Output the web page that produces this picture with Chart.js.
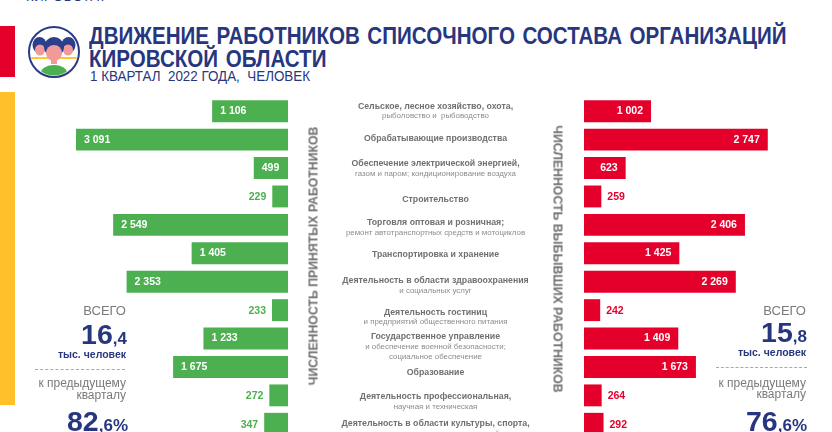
<!DOCTYPE html>
<html lang="ru"><head><meta charset="utf-8">
<script src="https://cdn.jsdelivr.net/npm/chart.js@4"></script>
<style>
html,body{margin:0;padding:0;background:#fff;overflow:hidden}
#page{position:relative;width:832px;height:432px;overflow:hidden;font-family:"Liberation Sans",Arial,sans-serif;background:#fff}
#page>*{position:absolute}
.t{white-space:nowrap;line-height:1}
.blue{color:#27377f}
.grey{color:#7a7a7a}
.r{text-align:right}
canvas{position:absolute}
.big{font-weight:bold;font-size:28.5px}
.big span{font-size:17px}
.note{font-size:12px}
</style></head><body>
<div id="page">
<div class="t blue" style="left:26px;top:-10px;font-size:13px;letter-spacing:.6px">КИРОВСТАТ</div>
<div style="left:0;top:26px;width:15px;height:51px;background:#e4002b"></div>
<div style="left:0;top:92px;width:15px;height:313px;background:#ffc02a"></div>
<svg style="left:28px;top:26px" width="52" height="52" viewBox="0 0 52 52">
 <defs><clipPath id="c"><circle cx="26" cy="26" r="23.5"/></clipPath></defs>
 <circle cx="26" cy="26" r="25" fill="#fff" stroke="#2b3a86" stroke-width="2"/>
 <g clip-path="url(#c)">
  <rect x="3" y="31" width="46" height="2" fill="#ffc72c"/>
  <ellipse cx="11.5" cy="19" rx="7" ry="8" fill="#2b3f8c"/><ellipse cx="12" cy="24" rx="5" ry="5.5" fill="#f29a9a"/>
  <ellipse cx="40.5" cy="19" rx="7" ry="8" fill="#2b3f8c"/><ellipse cx="40" cy="24" rx="5" ry="5.5" fill="#f29a9a"/>
  <ellipse cx="26" cy="21" rx="10" ry="10" fill="#2b3f8c"/><ellipse cx="26" cy="27" rx="8" ry="8" fill="#f29a9a"/>
  <rect x="23" y="33" width="6" height="5" fill="#f29a9a"/>
  <ellipse cx="26" cy="47" rx="13" ry="8" fill="#4caf50"/>
 </g>
</svg>
<div class="t blue" style="left:89px;top:25px;font-size:23px;font-weight:bold;word-spacing:2px;transform:scaleX(.895);transform-origin:0 0">ДВИЖЕНИЕ РАБОТНИКОВ СПИСОЧНОГО СОСТАВА ОРГАНИЗАЦИЙ</div>
<div class="t blue" style="left:89px;top:48px;font-size:23px;font-weight:bold;word-spacing:2px;transform:scaleX(.895);transform-origin:0 0">КИРОВСКОЙ ОБЛАСТИ</div>
<div class="t blue" style="left:90px;top:69px;font-size:14.5px;white-space:pre;transform:scaleX(.924);transform-origin:0 0">1 КВАРТАЛ  2022 ГОДА,  ЧЕЛОВЕК</div>

<canvas id="left" width="228" height="341" style="left:60px;top:97px"></canvas>
<canvas id="right" width="532" height="341" style="left:300px;top:97px"></canvas>

<div class="t" style="left:313px;top:256px;font-size:13px;font-weight:bold;transform:translate(-50%,-50%) rotate(-90deg) scaleX(.945);color:#6e6e6e">ЧИСЛЕННОСТЬ ПРИНЯТЫХ РАБОТНИКОВ</div>
<div class="t" style="left:558px;top:259px;font-size:13px;font-weight:bold;transform:translate(-50%,-50%) rotate(90deg) scaleX(.945);color:#6e6e6e">ЧИСЛЕННОСТЬ ВЫБЫВШИХ РАБОТНИКОВ</div>

<div class="t grey r" style="right:706px;top:304px;font-size:13px">ВСЕГО</div>
<div class="t blue r big" style="right:705px;top:320px">16<span>,4</span></div>
<div class="t blue r" style="right:706px;top:349px;font-weight:bold;font-size:10.5px">тыс. человек</div>
<div style="left:35px;top:369px;width:90px;border-top:1px dashed #a8a8a8"></div>
<div class="t grey r note" style="right:706px;top:377px">к предыдущему</div>
<div class="t grey r note" style="right:706px;top:389px">кварталу</div>
<div class="t blue r big" style="right:704px;top:407px">82<span>,6%</span></div>

<div class="t grey r" style="right:26px;top:304px;font-size:13px">ВСЕГО</div>
<div class="t blue r big" style="right:25px;top:318px">15<span>,8</span></div>
<div class="t blue r" style="right:26px;top:347px;font-weight:bold;font-size:10.5px">тыс. человек</div>
<div style="left:716px;top:367px;width:91px;border-top:1px dashed #a8a8a8"></div>
<div class="t grey r note" style="right:26px;top:377px">к предыдущему</div>
<div class="t grey r note" style="right:26px;top:388px">кварталу</div>
<div class="t blue r big" style="right:25px;top:407px">76<span>,6%</span></div>
</div>
<script>
const categories = [
 "Сельское, лесное хозяйство, охота,",
 "Обрабатывающие производства",
 "Обеспечение электрической энергией,",
 "Строительство",
 "Торговля оптовая и розничная;",
 "Транспортировка и хранение",
 "Деятельность в области здравоохранения",
 "Деятельность гостиниц",
 "Государственное управление",
 "Образование",
 "Деятельность профессиональная,",
 "Деятельность в области культуры, спорта,"
];
const subLines = [
 ["рыболовство и  рыбоводство"],
 [],
 ["газом и паром; кондиционирование воздуха"],
 [],
 ["ремонт автотранспортных средств и мотоциклов"],
 [],
 ["и социальных услуг"],
 ["и предприятий общественного питания"],
 ["и обеспечение военной безопасности;","социальное обеспечение"],
 [],
 ["научная и техническая"],
 ["организации досуга и развлечений"]
];
const hired = [1106,3091,499,229,2549,1405,2353,233,1233,1675,272,347];
const left_ = [1002,2747,623,259,2406,1425,2269,242,1409,1673,264,292];

const GREEN="#4caf50", RED="#e4002b";
const fmt=v=>String(v).replace(/\B(?=(\d{3})+$)/g," ");
const labelNudge=[0,-1,1,3,3,1,4,7,8,6,6,5];

const valueLabels={id:"valueLabels",afterDatasetsDraw(ch){
 const c=ch.ctx,isLeft=ch.canvas.id==="left",color=isLeft?GREEN:RED;
 c.save();c.font="bold 10.5px 'Liberation Sans'";c.textBaseline="middle";
 ch.getDatasetMeta(0).data.forEach((b,i)=>{
  const v=ch.data.datasets[0].data[i],inside=v>=400;
  c.fillStyle=inside?"#fff":color;
  const dir=isLeft?1:-1;
  if(inside){c.textAlign=isLeft?"left":"right";c.fillText(fmt(v),b.x+dir*8,b.y);}
  else{c.textAlign=isLeft?"right":"left";c.fillText(fmt(v),b.x-dir*6,b.y+1);}
 });
 c.restore();
}};
const catLabels={id:"catLabels",afterDraw(ch){
 if(ch.canvas.id!=="right")return;
 const c=ch.ctx,y=ch.scales.y,cx=135.5;
 c.save();c.textAlign="center";c.textBaseline="middle";
 categories.forEach((name,i)=>{
  const subs=subLines[i],n=1+subs.length,py=y.getPixelForValue(i)+labelNudge[i];
  let yy=py-(n-1)*5;
  c.font="bold 8.75px 'Liberation Sans'";c.fillStyle="#707070";
  c.fillText(name,cx,yy);
  c.font="7.9px 'Liberation Sans'";c.fillStyle="#8c8c8c";
  subs.forEach(s=>{yy+=10;c.fillText(s,cx,yy);});
 });
 c.restore();
}};
function make(id,data,color,maxV,reverse,padLeft){
 return new Chart(document.getElementById(id),{
  type:"bar",
  data:{labels:categories,datasets:[{data,backgroundColor:color,barPercentage:.77,categoryPercentage:1}]},
  options:{indexAxis:"y",responsive:false,animation:false,devicePixelRatio:1,
   layout:{padding:{left:padLeft,right:0,top:0,bottom:0}},
   plugins:{legend:{display:false},tooltip:{enabled:false},title:{display:false}},
   scales:{x:{display:false,min:0,max:maxV,reverse},y:{display:false}}},
  plugins:[valueLabels,catLabels]});
}
make("left",hired,GREEN,3324,true,0);
make("right",left_,RED,3707,false,284);
</script>
</body></html>
